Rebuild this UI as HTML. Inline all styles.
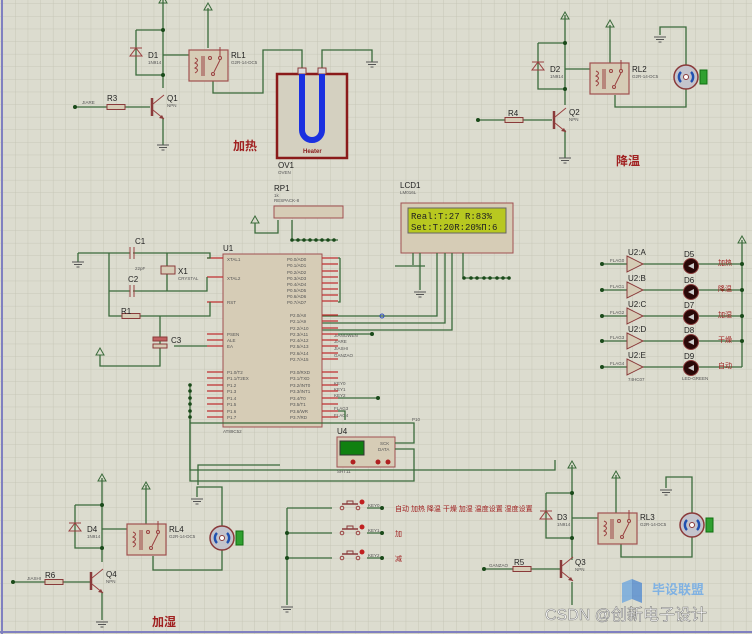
<!DOCTYPE html>
<html><head><meta charset="utf-8"><style>
html,body{margin:0;padding:0;background:#dcdccf;}
svg{display:block;font-family:"Liberation Sans","Noto Sans CJK SC",sans-serif;}
.w{stroke:#3a6a3a;stroke-width:1.3;fill:none}
.c{stroke:#9a4040;stroke-width:1;fill:none}
.t{font-size:8px;fill:#222}
.s{font-size:4.5px;fill:#555}
.r{font-size:12px;fill:#a02020;font-weight:bold}
.rt{font-size:7px;fill:#a02020}
</style></head><body>
<svg width="752" height="634" viewBox="0 0 752 634" xmlns="http://www.w3.org/2000/svg">
<defs>
<pattern id="g" width="12.6" height="12.6" patternUnits="userSpaceOnUse" x="3" y="4">
<path d="M12.6 0V12.6H0" fill="none" stroke="#c2c2b2" stroke-width="0.8"/></pattern>
<g id="relay">
<rect x="0" y="0" width="39" height="31" fill="#d6ccb6" stroke="#a05050" stroke-width="1.2"/>
<path d="M6 8 q5 2 0 5 q5 2 0 5 q5 2 0 5" class="c"/>
<line x1="13" y1="6" x2="13" y2="26" class="c"/><line x1="15" y1="6" x2="15" y2="26" class="c"/>
<circle cx="21" cy="8" r="1.5" class="c"/><circle cx="31" cy="8" r="1.5" class="c"/><circle cx="24" cy="24" r="1.5" class="c"/>
<line x1="25" y1="22" x2="31" y2="10" class="c"/><line x1="31" y1="7" x2="31" y2="-3" class="c"/>
</g>
<g id="motor">
<circle r="12" fill="#c4c4cc" stroke="#8a3a3a" stroke-width="1.5"/>
<path d="M-5 -5 a7 7 0 0 0 0 10" stroke="#2050b0" stroke-width="2.5" fill="none"/>
<path d="M5 -5 a7 7 0 0 1 0 10" stroke="#2050b0" stroke-width="2.5" fill="none"/>
<circle r="2.5" fill="#fff" stroke="#8a3a3a"/>
<rect x="14" y="-7" width="7" height="14" fill="#30a030" stroke="#107010"/>
</g>
<g id="gnd"><line x1="-6" y1="0" x2="6" y2="0" stroke="#555"/><line x1="-4" y1="2.5" x2="4" y2="2.5" stroke="#555"/><line x1="-1.5" y1="5" x2="1.5" y2="5" stroke="#555"/></g>
<g id="pwr"><path d="M0 0 L-4 7 H4 Z" fill="none" stroke="#3a6a3a"/></g>
<g id="diode"><path d="M-6 4 H6 L0 -4 Z M-6 -4 H6" class="c" stroke-width="1.3"/></g>
<g id="npn"><line x1="0" y1="-9" x2="0" y2="9" stroke="#8a3a3a" stroke-width="2.5"/><line x1="1" y1="-3" x2="12" y2="-12" class="c"/><line x1="1" y1="3" x2="12" y2="12" class="c"/><path d="M12 12 l-5 -1 l3 -3z" fill="#8a3a3a"/></g>
<g id="res"><rect x="0" y="-2.5" width="18" height="5" fill="#d6ccb6" stroke="#8a3a3a"/></g>
<g id="buf"><path d="M0 -8 L16 0 L0 8 Z" fill="#d6ccb6" stroke="#8a3a3a"/></g>
<g id="led"><circle r="7.5" fill="#2a0808" stroke="#8a3a3a"/><path d="M-3 0 L3 -3 V3Z" fill="#ccc"/></g>
<g id="key"><line x1="-8" y1="-4" x2="8" y2="-4" stroke="#8a3a3a" stroke-width="1.5"/><rect x="-3" y="-7" width="6" height="3" fill="none" stroke="#8a3a3a"/><circle cx="-8" cy="0" r="1.8" class="c"/><circle cx="8" cy="0" r="1.8" class="c"/><circle cx="12" cy="-6" r="2.5" fill="#c02020"/></g>
</defs>
<rect width="752" height="634" fill="url(#g)"/>
<line x1="2" y1="0" x2="2" y2="634" stroke="#8080c0" stroke-width="2"/>
<line x1="0" y1="632" x2="752" y2="632" stroke="#8080c0" stroke-width="2"/>

<!-- top-left heater channel -->
<path class="w" d="M163 0V75 M136 30H163 M136 30V75H163 M163 55H189 M163 75V88 M163 118V145 M75 107H107 M125 107H150 M208 48V8 M213 75V93H263V50H302V70 M322 70V50H372V62"/>
<use href="#pwr" x="208" y="3"/><use href="#pwr" x="163" y="-4"/>
<use href="#diode" x="136" y="52"/>
<use href="#relay" x="189" y="50"/>
<use href="#npn" x="152" y="107"/>
<use href="#res" x="107" y="107"/>
<use href="#gnd" x="163" y="145"/><use href="#gnd" x="372" y="62"/>
<circle cx="163" cy="30" r="2" fill="#1a4a1a"/><circle cx="163" cy="75" r="2" fill="#1a4a1a"/><circle cx="75" cy="107" r="2" fill="#1a4a1a"/>
<text x="148" y="58" class="t">D1</text><text x="148" y="64" class="s">1N914</text>
<text x="231" y="58" class="t">RL1</text><text x="231" y="64" class="s">G2R-14-DC5</text>
<text x="167" y="101" class="t">Q1</text><text x="167" y="107" class="s">NPN</text>
<text x="107" y="101" class="t">R3</text><text x="82" y="104" class="s">JIARE</text>
<rect x="277" y="74" width="70" height="84" fill="#d4d0c0" stroke="#8a1a1a" stroke-width="2.5"/>
<rect x="298" y="68" width="8" height="6" fill="#ddd" stroke="#8a3a3a"/><rect x="318" y="68" width="8" height="6" fill="#ddd" stroke="#8a3a3a"/>
<path d="M302 74V130a10 10 0 0 0 20 0V74" stroke="#1a30e0" stroke-width="6" fill="none"/>
<text x="303" y="153" font-size="6" fill="#8a1a1a" font-weight="bold">Heater</text>
<text x="278" y="168" class="t">OV1</text><text x="278" y="174" class="s">OVEN</text>
<text x="233" y="150" class="r">加热</text>

<!-- top-right cooling -->
<path class="w" d="M565 15V90 M538 43H565 M538 43V89H565 M565 69H590 M565 89V105 M565 130V158 M478 120H505 M523 120H552 M610 63V25 M615 95V107H686V89 M686 65V27H660V35"/>
<use href="#pwr" x="565" y="12"/><use href="#pwr" x="610" y="20"/>
<use href="#diode" x="538" y="66"/>
<use href="#relay" x="590" y="63"/>
<use href="#npn" x="554" y="120"/><use href="#res" x="505" y="120"/>
<use href="#gnd" x="565" y="158"/><use href="#gnd" x="660" y="37"/>
<use href="#motor" x="686" y="77"/>
<circle cx="565" cy="43" r="2" fill="#1a4a1a"/><circle cx="565" cy="89" r="2" fill="#1a4a1a"/><circle cx="478" cy="120" r="2" fill="#1a4a1a"/>
<text x="550" y="72" class="t">D2</text><text x="550" y="78" class="s">1N914</text>
<text x="632" y="72" class="t">RL2</text><text x="632" y="78" class="s">G2R-14-DC5</text>
<text x="569" y="115" class="t">Q2</text><text x="569" y="121" class="s">NPN</text>
<text x="508" y="116" class="t">R4</text>
<text x="616" y="165" class="r">降温</text>

<!-- RP1 -->
<text x="274" y="191" class="t">RP1</text><text x="274" y="197" class="s">1k</text><text x="274" y="202" class="s">RESPACK-8</text>
<rect x="274" y="206" width="69" height="12" fill="#d6ccb6" stroke="#a05050"/>
<path class="w" d="M255 223V233H278V220 M292 220V240H338"/>
<use href="#pwr" x="255" y="216"/>
<g fill="#1a4a1a"><circle cx="292" cy="240" r="1.8"/><circle cx="298" cy="240" r="1.8"/><circle cx="304" cy="240" r="1.8"/><circle cx="310" cy="240" r="1.8"/><circle cx="316" cy="240" r="1.8"/><circle cx="322" cy="240" r="1.8"/><circle cx="328" cy="240" r="1.8"/><circle cx="334" cy="240" r="1.8"/></g>

<!-- LCD -->
<text x="400" y="188" class="t">LCD1</text><text x="400" y="194" class="s">LM016L</text>
<rect x="401" y="203" width="112" height="50" fill="#d6ccb6" stroke="#a05050"/>
<rect x="408" y="208" width="98" height="25" fill="#b8c820" stroke="#666"/>
<text x="411" y="219" font-family="Liberation Mono,monospace" font-size="9" fill="#222">Real:T:27 R:83%</text>
<text x="411" y="230" font-family="Liberation Mono,monospace" font-size="9" fill="#222">Set:T:20R:20%П:6</text>
<path class="w" d="M420 253V290 M413 253V265 M437 253V316H322 M445 253V323H322 M452 253V330H322 M463 253V278H510 M425 266H395"/>
<use href="#gnd" x="420" y="292"/>
<g fill="#1a4a1a"><circle cx="464" cy="278" r="1.8"/><circle cx="471" cy="278" r="1.8"/><circle cx="477" cy="278" r="1.8"/><circle cx="484" cy="278" r="1.8"/><circle cx="490" cy="278" r="1.8"/><circle cx="497" cy="278" r="1.8"/><circle cx="503" cy="278" r="1.8"/><circle cx="509" cy="278" r="1.8"/></g>
<circle cx="382" cy="316" r="2" fill="none" stroke="#3050c0"/>

<!-- U1 -->
<text x="223" y="251" class="t">U1</text>
<rect x="223" y="254" width="99" height="173" fill="#d6ccb6" stroke="#a05050"/>
<g class="s" fill="#333">
<text x="227" y="261">XTAL1</text><text x="227" y="280">XTAL2</text><text x="227" y="304">RST</text>
<text x="227" y="336">PSEN</text><text x="227" y="342">ALE</text><text x="227" y="348">EA</text>
<text x="227" y="374">P1.0/T2</text><text x="227" y="380">P1.1/T2EX</text><text x="227" y="387">P1.2</text><text x="227" y="393">P1.3</text><text x="227" y="400">P1.4</text><text x="227" y="406">P1.5</text><text x="227" y="413">P1.6</text><text x="227" y="419">P1.7</text>
<text x="287" y="261">P0.0/AD0</text><text x="287" y="267">P0.1/AD1</text><text x="287" y="274">P0.2/AD2</text><text x="287" y="280">P0.3/AD3</text><text x="287" y="286">P0.4/AD4</text><text x="287" y="292">P0.5/AD5</text><text x="287" y="298">P0.6/AD6</text><text x="287" y="304">P0.7/AD7</text>
<text x="290" y="317">P2.0/A8</text><text x="290" y="323">P2.1/A9</text><text x="290" y="330">P2.2/A10</text><text x="290" y="336">P2.3/A11</text><text x="290" y="342">P2.4/A12</text><text x="290" y="348">P2.5/A13</text><text x="290" y="355">P2.6/A14</text><text x="290" y="361">P2.7/A15</text>
<text x="290" y="374">P3.0/RXD</text><text x="290" y="380">P3.1/TXD</text><text x="290" y="387">P3.2/INT0</text><text x="290" y="393">P3.3/INT1</text><text x="290" y="400">P3.4/T0</text><text x="290" y="406">P3.5/T1</text><text x="290" y="413">P3.6/WR</text><text x="290" y="419">P3.7/RD</text>
<text x="223" y="433">AT89C52</text>
<text x="334" y="337">JIANGWEN</text><text x="334" y="343">JIARE</text><text x="334" y="350">JIASHI</text><text x="334" y="357">GANZAO</text>
<text x="334" y="385">KEY0</text><text x="334" y="391">KEY1</text><text x="334" y="397">KEY2</text><text x="334" y="410">FLAG3</text><text x="334" y="417">FLAG4</text>
</g>
<g stroke="#c03030" stroke-width="1.2">
<path d="M322 258H338M322 264H338M322 271H338M322 277H338M322 283H338M322 289H338M322 295H338M322 301H338M322 315H338M322 321H338M322 328H338M322 334H338M322 340H338M322 346H338M322 353H338M322 359H338M322 372H338M322 378H338M322 385H338M322 391H338M322 398H338M322 404H338M322 411H338M322 417H338"/>
<path d="M207 258H223M207 277H223M207 302H223M207 334H223M207 340H223M207 346H223M207 372H223M207 378H223M207 385H223M207 391H223M207 398H223M207 404H223M207 411H223M207 417H223"/>
</g>
<path class="w" d="M338 258H340M338 302H340V258 M338 334H372 M338 398H378 M338 411H345V420 M190 385V470H555V460"/>
<circle cx="372" cy="334" r="2" fill="#1a4a1a"/><circle cx="378" cy="398" r="2" fill="#1a4a1a"/>
<g fill="#1a4a1a"><circle cx="190" cy="385" r="1.8"/><circle cx="190" cy="391" r="1.8"/><circle cx="190" cy="398" r="1.8"/><circle cx="190" cy="404" r="1.8"/><circle cx="190" cy="411" r="1.8"/><circle cx="190" cy="417" r="1.8"/></g>

<!-- oscillator / reset -->
<path class="w" d="M78 253V262 M78 253H210V258H207 M109 253V316H160 M109 291H207V277 M167 253V291 M160 316H210V302 M160 316V345 M160 347V366H100V355 M174 346H207"/>
<use href="#gnd" x="78" y="262"/><use href="#pwr" x="100" y="348"/>
<rect x="130" y="247" width="3" height="12" fill="#dcdccf"/><path d="M130 247V259M134 247V259" class="c"/>
<rect x="130" y="285" width="3" height="12" fill="#dcdccf"/><path d="M130 285V297M134 285V297" class="c"/>
<rect x="161" y="266" width="14" height="8" fill="#d6ccb6" stroke="#8a3a3a"/>
<use href="#res" x="122" y="316"/>
<rect x="153" y="337" width="14" height="4" fill="#c06060" stroke="#8a3a3a"/><rect x="153" y="344" width="14" height="4" fill="#d6ccb6" stroke="#8a3a3a"/>
<text x="135" y="244" class="t">C1</text><text x="128" y="282" class="t">C2</text><text x="178" y="274" class="t">X1</text><text x="121" y="314" class="t">R1</text><text x="171" y="343" class="t">C3</text>
<text x="178" y="280" class="s">CRYSTAL</text><text x="135" y="270" class="s">22pF</text>

<!-- U2 buffers & LEDs -->
<path class="w" d="M742 240V367"/>
<use href="#pwr" x="742" y="236"/>
<g>
<path class="w" d="M602 264H627 M643 264H742 M602 290H627 M643 290H742 M602 316H627 M643 316H742 M602 341H627 M643 341H742 M602 367H627 M643 367H742"/>
<use href="#buf" x="627" y="264"/><use href="#buf" x="627" y="290"/><use href="#buf" x="627" y="316"/><use href="#buf" x="627" y="341"/><use href="#buf" x="627" y="367"/>
<use href="#led" x="691" y="266"/><use href="#led" x="691" y="292"/><use href="#led" x="691" y="317"/><use href="#led" x="691" y="342"/><use href="#led" x="691" y="368"/>
<g fill="#1a4a1a"><circle cx="602" cy="264" r="2"/><circle cx="602" cy="290" r="2"/><circle cx="602" cy="316" r="2"/><circle cx="602" cy="341" r="2"/><circle cx="602" cy="367" r="2"/><circle cx="742" cy="264" r="2"/><circle cx="742" cy="290" r="2"/><circle cx="742" cy="316" r="2"/><circle cx="742" cy="341" r="2"/></g>
<g class="t"><text x="628" y="255">U2:A</text><text x="628" y="281">U2:B</text><text x="628" y="307">U2:C</text><text x="628" y="332">U2:D</text><text x="628" y="358">U2:E</text>
<text x="684" y="257">D5</text><text x="684" y="283">D6</text><text x="684" y="308">D7</text><text x="684" y="333">D8</text><text x="684" y="359">D9</text></g>
<g class="s"><text x="610" y="262">FLAG0</text><text x="610" y="288">FLAG1</text><text x="610" y="314">FLAG2</text><text x="610" y="339">FLAG3</text><text x="610" y="365">FLAG4</text><text x="682" y="380">LED-GREEN</text><text x="628" y="381">74HC07</text></g>
<g class="rt"><text x="718" y="265">加热</text><text x="718" y="291">降温</text><text x="718" y="317">加湿</text><text x="718" y="342">干燥</text><text x="718" y="368">自动</text></g>
</g>

<!-- U4 SHT11 -->
<text x="337" y="434" class="t">U4</text>
<rect x="337" y="437" width="58" height="30" fill="#d6ccb6" stroke="#a05050"/>
<rect x="340" y="441" width="24" height="14" fill="#108010" stroke="#333"/>
<circle cx="353" cy="462" r="2.5" fill="#b02020"/><circle cx="378" cy="462" r="2.5" fill="#b02020"/><circle cx="388" cy="462" r="2.5" fill="#b02020"/>
<text x="380" y="445" class="s">SCK</text><text x="378" y="451" class="s">DATA</text><text x="337" y="473" class="s">SHT11</text>
<path class="w" d="M395 443H414V423H190 M395 449H414V481H190V420"/>
<text x="412" y="421" class="s">P10</text>

<!-- keys -->
<path class="w" d="M287 508H332 M287 508V605 M287 533H332 M287 558H332 M367 508H382 M367 533H382 M367 558H382"/>
<use href="#gnd" x="287" y="607"/>
<use href="#key" x="350" y="508"/><use href="#key" x="350" y="533"/><use href="#key" x="350" y="558"/>
<g fill="#1a4a1a"><circle cx="382" cy="508" r="2"/><circle cx="382" cy="533" r="2"/><circle cx="382" cy="558" r="2"/><circle cx="287" cy="533" r="2"/><circle cx="287" cy="558" r="2"/></g>
<g class="s"><text x="368" y="507">KEY0</text><text x="368" y="532">KEY1</text><text x="368" y="557">KEY2</text></g>
<text x="395" y="511" class="rt">自动  加热  降温  干燥  加湿  温度设置  湿度设置</text>
<text x="395" y="536" class="rt">加</text><text x="395" y="561" class="rt">减</text>

<!-- bottom-left humidifier -->
<path class="w" d="M102 478V548 M75 505H102 M75 505V548H102 M102 529H127 M102 548V562 M102 592V620 M13 582H45 M63 582H90 M146 527V485 M153 556V570H222V550 M222 526V487H197V497 M198 485V465H280"/>
<use href="#pwr" x="102" y="474"/><use href="#pwr" x="146" y="482"/>
<use href="#diode" x="75" y="527"/>
<use href="#relay" x="127" y="524"/>
<use href="#npn" x="91" y="581"/><use href="#res" x="45" y="582"/>
<use href="#gnd" x="102" y="622"/><use href="#gnd" x="197" y="499"/>
<use href="#motor" x="222" y="538"/>
<circle cx="102" cy="505" r="2" fill="#1a4a1a"/><circle cx="102" cy="548" r="2" fill="#1a4a1a"/><circle cx="13" cy="582" r="2" fill="#1a4a1a"/>
<text x="87" y="532" class="t">D4</text><text x="87" y="538" class="s">1N914</text>
<text x="169" y="532" class="t">RL4</text><text x="169" y="538" class="s">G2R-14-DC5</text>
<text x="106" y="577" class="t">Q4</text><text x="106" y="583" class="s">NPN</text>
<text x="45" y="578" class="t">R6</text><text x="27" y="580" class="s">JIASHI</text>
<text x="152" y="626" class="r">加湿</text>

<!-- bottom-right drying -->
<path class="w" d="M572 465V560 M546 493H572 M546 493V538H572 M572 518H598 M572 538V552 M572 582V605 M484 569H513 M531 569H560 M616 513V475 M621 543V557H692V537 M692 513V477H666V488"/>
<use href="#pwr" x="572" y="461"/><use href="#pwr" x="616" y="471"/>
<use href="#diode" x="546" y="515"/>
<use href="#relay" x="598" y="513"/>
<use href="#npn" x="561" y="569"/><use href="#res" x="513" y="569"/>
<use href="#gnd" x="666" y="490"/>
<use href="#motor" x="692" y="525"/>
<circle cx="572" cy="493" r="2" fill="#1a4a1a"/><circle cx="572" cy="538" r="2" fill="#1a4a1a"/><circle cx="484" cy="569" r="2" fill="#1a4a1a"/>
<text x="557" y="520" class="t">D3</text><text x="557" y="526" class="s">1N914</text>
<text x="640" y="520" class="t">RL3</text><text x="640" y="526" class="s">G2R-14-DC5</text>
<text x="575" y="565" class="t">Q3</text><text x="575" y="571" class="s">NPN</text>
<text x="514" y="565" class="t">R5</text><text x="489" y="567" class="s">GANZAO</text>

<!-- watermark -->
<path d="M622 583 l10 -4 l0 20 l-10 4z" fill="#60a0e0" opacity="0.7"/><path d="M642 583 l-10 -4 l0 20 l10 4z" fill="#4080d0" opacity="0.7"/>
<text x="652" y="594" font-size="13" fill="#6aa8e8" font-weight="bold" opacity="0.8">毕设联盟</text>
<text x="545" y="620" font-size="16" fill="#fff" stroke="#777" stroke-width="0.5">CSDN @创新电子设计</text>
</svg>
</body></html>
